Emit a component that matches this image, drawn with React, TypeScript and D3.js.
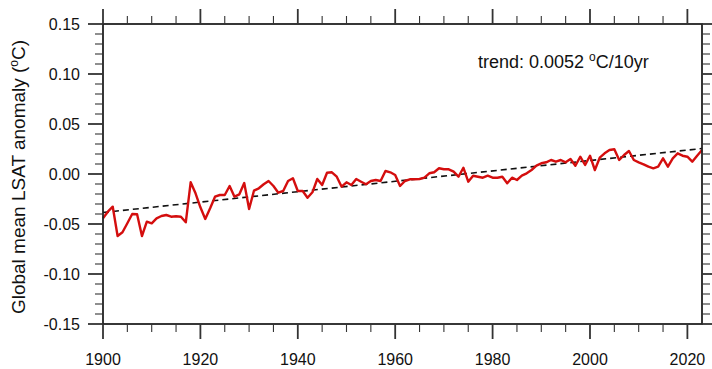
import React, { useEffect, useRef } from "react";
import * as d3 from "d3";

// Annual global mean land surface air temperature anomaly (°C), 1900–2023
const startYear = 1900;
const anomaly: number[] = [
  -0.0443, -0.0377, -0.0327, -0.062, -0.0583, -0.0493, -0.040, -0.0403, -0.062, -0.0477,
  -0.0493, -0.0443, -0.042, -0.041, -0.0427, -0.0423, -0.0427, -0.0483, -0.0083, -0.0193,
  -0.0333, -0.045, -0.0343, -0.0227, -0.021, -0.021, -0.012, -0.0227, -0.0203, -0.009,
  -0.035, -0.0167, -0.0143, -0.0103, -0.007, -0.012, -0.0187, -0.017, -0.007, -0.0043,
  -0.017, -0.017, -0.0237, -0.0183, -0.005, -0.011, 0.0013, 0.0017, -0.0027, -0.0127,
  -0.0083, -0.011, -0.005, -0.0077, -0.0103, -0.007, -0.006, -0.007, 0.003, 0.0017,
  -0.001, -0.012, -0.007, -0.0053, -0.0053, -0.005, -0.0037, 0.0007, 0.0017, 0.0057,
  0.0047, 0.0047, 0.0023, -0.0027, 0.0063, -0.0077, -0.0017, -0.0027, -0.0037, -0.0017,
  -0.0037, -0.0037, -0.0027, -0.0093, -0.0037, -0.006, -0.0017, 0.0007, 0.004, 0.0083,
  0.0107, 0.0117, 0.014, 0.0123, 0.014, 0.0117, 0.015, 0.0083, 0.0173, 0.009,
  0.0183, 0.004, 0.0163, 0.0207, 0.024, 0.0247, 0.014, 0.019, 0.023, 0.014,
  0.0117, 0.0097, 0.0073, 0.0057, 0.0073, 0.0157, 0.0073, 0.0157, 0.0207, 0.0183,
  0.0173, 0.0123, 0.0183, 0.024,
];
const years: number[] = anomaly.map((_, i) => startYear + i);

// Linear trend, °C per decade, and its value at the first year
const trendPerDecade = 0.0052;
const trendIntercept = -0.0385;

const yMajorTicks: number[] = [-0.15, -0.1, -0.05, 0, 0.05, 0.1, 0.15];
const xMajorTicks: number[] = [1900, 1920, 1940, 1960, 1980, 2000, 2020];

const W = 712;
const H = 369;
const left = 103;
const right = 702;
const top = 24;
const bottom = 324;

export default function App() {
  const ref = useRef<SVGSVGElement>(null);

  useEffect(() => {
    const svg = d3.select(ref.current);
    svg.selectAll("*").remove();

    const x = d3.scaleLinear().domain([1900, 2023]).range([left, right]);
    const y = d3.scaleLinear().domain([-0.15, 0.15]).range([bottom, top]);

    const font = "'Liberation Sans', Arial, Helvetica, sans-serif";
    const majorLen = 15;
    const minorLen = 8;

    const xMinor = d3.range(1900, 2024, 5).filter((v) => v % 20 !== 0);
    const yMinor = d3.range(-15, 16, 1).filter((v) => v % 5 !== 0).map((v) => v / 100);

    const g = svg.append("g");

    // trend line
    const trend = (yr: number) => trendIntercept + (trendPerDecade / 10) * (yr - startYear);
    g.append("line")
      .attr("x1", x(1900)).attr("y1", y(trend(1900)))
      .attr("x2", x(2023)).attr("y2", y(trend(2023)))
      .attr("stroke", "#111").attr("stroke-width", 1.6)
      .attr("stroke-dasharray", "6,4");

    // anomaly series
    const line = d3.line<number>()
      .x((_, i) => x(years[i]))
      .y((d) => y(d));
    g.append("path")
      .datum(anomaly)
      .attr("d", line)
      .attr("fill", "none")
      .attr("stroke", "#d40e0e")
      .attr("stroke-width", 2.4)
      .attr("stroke-linejoin", "round");

    // frame
    g.append("rect")
      .attr("x", left).attr("y", top)
      .attr("width", right - left).attr("height", bottom - top)
      .attr("fill", "none").attr("stroke", "#222").attr("stroke-width", 1.8);

    const ticks = g.append("g").attr("stroke", "#333");
    // x ticks, bottom and top (outward)
    xMajorTicks.forEach((v) => {
      ticks.append("line").attr("x1", x(v)).attr("x2", x(v))
        .attr("y1", bottom).attr("y2", bottom + majorLen).attr("stroke-width", 1.8);
      ticks.append("line").attr("x1", x(v)).attr("x2", x(v))
        .attr("y1", top).attr("y2", top - majorLen).attr("stroke-width", 1.8);
    });
    xMinor.forEach((v) => {
      ticks.append("line").attr("x1", x(v)).attr("x2", x(v))
        .attr("y1", bottom).attr("y2", bottom + minorLen).attr("stroke-width", 1.1);
      ticks.append("line").attr("x1", x(v)).attr("x2", x(v))
        .attr("y1", top).attr("y2", top - minorLen).attr("stroke-width", 1.1);
    });
    // y ticks, left and right (outward)
    yMajorTicks.forEach((v) => {
      ticks.append("line").attr("y1", y(v)).attr("y2", y(v))
        .attr("x1", left).attr("x2", left - majorLen).attr("stroke-width", 1.8);
      ticks.append("line").attr("y1", y(v)).attr("y2", y(v))
        .attr("x1", right).attr("x2", right + majorLen).attr("stroke-width", 1.8);
    });
    yMinor.forEach((v) => {
      ticks.append("line").attr("y1", y(v)).attr("y2", y(v))
        .attr("x1", left).attr("x2", left - minorLen).attr("stroke-width", 1.1);
      ticks.append("line").attr("y1", y(v)).attr("y2", y(v))
        .attr("x1", right).attr("x2", right + minorLen).attr("stroke-width", 1.1);
    });

    // tick labels (plain hyphen for negatives)
    const yFmt = (v: number) => (v < 0 ? "-" : "") + Math.abs(v).toFixed(2);
    g.append("g").selectAll("text").data(yMajorTicks).join("text")
      .attr("x", 80).attr("y", (d) => y(d))
      .attr("dy", "0.36em")
      .attr("text-anchor", "end")
      .attr("font-family", font).attr("font-size", 16).attr("fill", "#111")
      .text((d) => yFmt(d));
    g.append("g").selectAll("text").data(xMajorTicks).join("text")
      .attr("x", (d) => x(d)).attr("y", 365)
      .attr("text-anchor", "middle")
      .attr("font-family", font).attr("font-size", 16).attr("fill", "#111")
      .text((d) => String(d));

    // axis title
    const yt = g.append("text")
      .attr("transform", `translate(25,${(top + bottom) / 2 + 3}) rotate(-90)`)
      .attr("text-anchor", "middle")
      .attr("font-family", font).attr("font-size", 19).attr("fill", "#111");
    yt.append("tspan").text("Global mean LSAT anomaly (");
    yt.append("tspan").attr("font-size", 12).attr("dy", -7).text("o");
    yt.append("tspan").attr("dy", 7).text("C)");

    // trend annotation
    const tt = g.append("text")
      .attr("x", 478).attr("y", 68)
      .attr("font-family", font).attr("font-size", 18).attr("fill", "#111");
    tt.append("tspan").text(`trend: ${trendPerDecade.toFixed(4)} `);
    tt.append("tspan").attr("font-size", 12).attr("dy", -7).text("o");
    tt.append("tspan").attr("dy", 7).text("C/10yr");
  }, []);

  return (
    <div style={{ position: "absolute", left: 0, top: 0, background: "#fff" }}>
      <svg ref={ref} width={W} height={H} style={{ display: "block" }} />
    </div>
  );
}
